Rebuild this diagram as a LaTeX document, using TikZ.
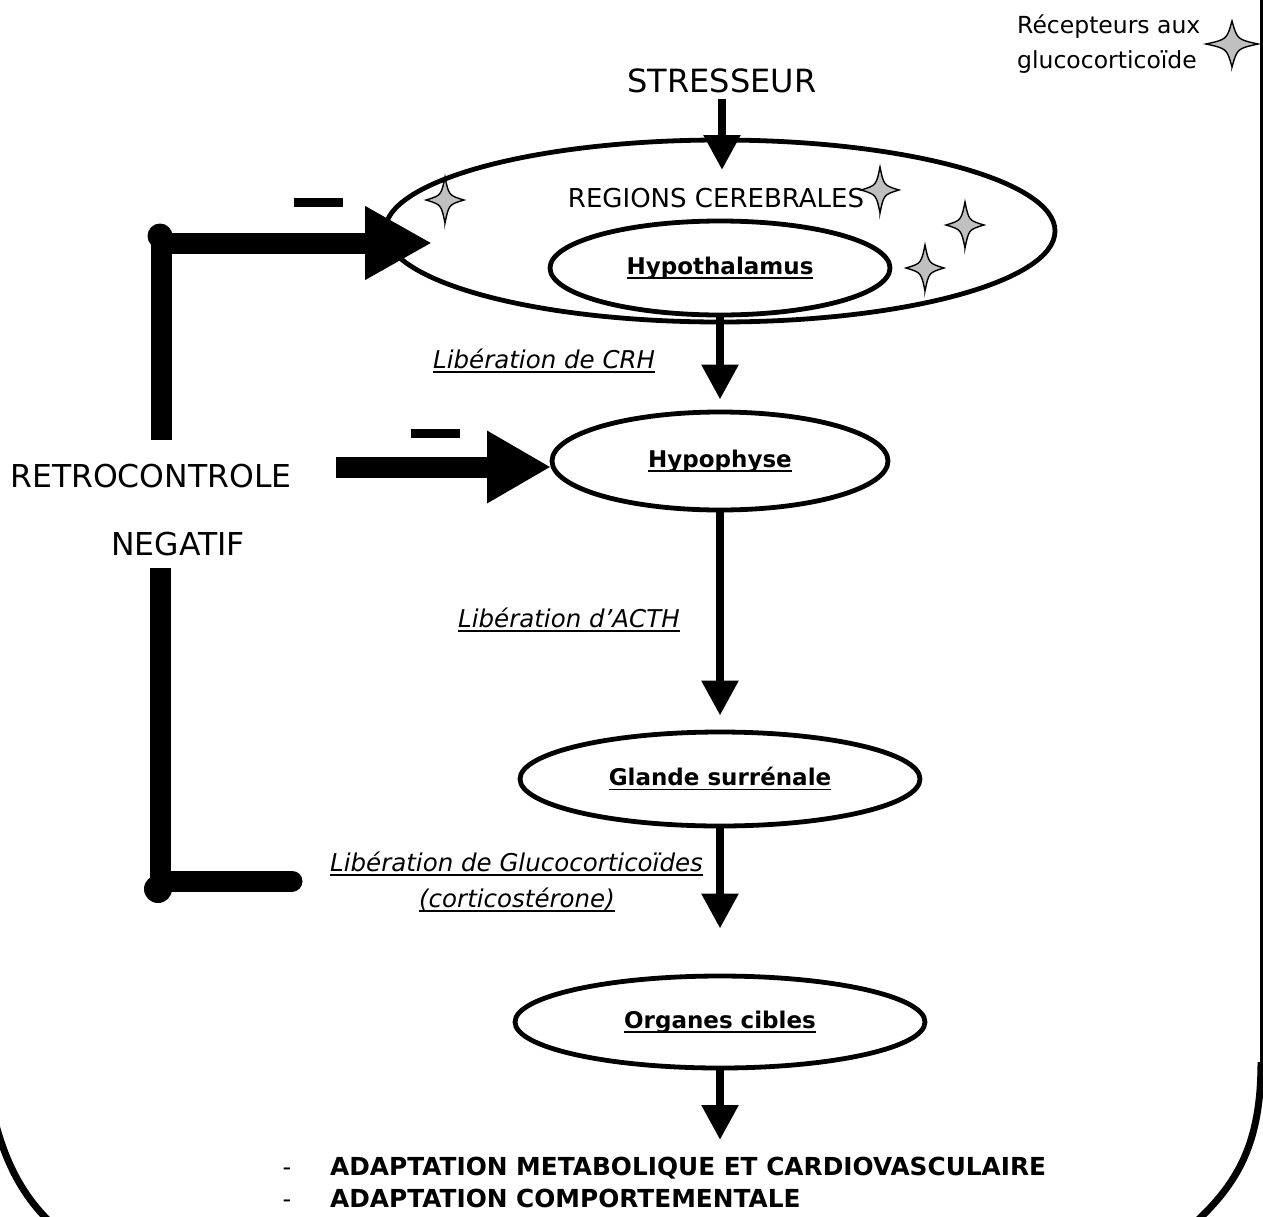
\documentclass[tikz,border=0pt]{standalone}
\usepackage{fontspec}
\setmainfont{DejaVu Sans}
\usetikzlibrary{arrows.meta,shapes.geometric}
\definecolor{starfill}{RGB}{192,192,192}
\newcommand\ulx[1]{\setbox0\hbox{#1}\rlap{\rule[-4.5pt]{\wd0}{1.8pt}}\box0}
\tikzset{
  ell/.style={draw, ellipse, line width=4.8pt, inner sep=0pt},
  lbl/.style={font=\fontsize{23}{27}\selectfont\bfseries},
  itl/.style={font=\fontsize{24.5}{30}\selectfont\itshape, inner sep=0pt},
  txt/.style={inner sep=0pt},
  arr/.style={line width=8.5pt, -{Triangle[length=35pt,width=35pt]}},
  fbbar/.style={line width=21pt},
  gstar/.pic={\path[draw=black, fill=starfill, line width=1.4pt]
     (0,1) .. controls (0.2,0.2) .. (1,0) .. controls (0.2,-0.2) .. (0,-1)
     .. controls (-0.2,-0.2) .. (-1,0) .. controls (-0.2,0.2) .. cycle;}
}
\begin{document}
\begin{tikzpicture}[x=1pt,y=-1pt]
\useasboundingbox (0,0) rectangle (1263,1216);
% frame
\draw[line width=2.4pt] (1261.5,-2) -- (1261.5,1068);
\draw[line width=7pt] (1261,1062) .. controls (1261,1140) and (1240,1180) .. (1198,1220);
\draw[line width=7pt] (-4,1125) .. controls (6,1162) and (22,1195) .. (50,1222);
% legend
\node[txt, anchor=base west, font=\fontsize{23.5}{28}\selectfont] (leg1) at (1017,33) {Récepteurs aux};
\node[txt, anchor=base west, font=\fontsize{23.5}{28}\selectfont] (leg2) at (1017,68) {glucocorticoïde};
\pic[xscale=26,yscale=23] at (1232,44) {gstar};
% main chain
\node[txt, anchor=base, font=\fontsize{32}{36}\selectfont] (stress) at (722,92) {STRESSEUR};
\node[ell, minimum width=670pt, minimum height=182pt] (brain) at (720,231) {};
\node[txt, anchor=base, font=\fontsize{26}{30}\selectfont] (regions) at (716,207) {REGIONS CEREBRALES};
\node[ell, lbl, minimum width=340pt, minimum height=94pt] (hypo) at (720,268) {\ulx{Hypothalamus}};
\pic[xscale=19,yscale=23] at (445,200) {gstar};
\pic[xscale=19,yscale=23] at (880,190) {gstar};
\pic[xscale=19,yscale=23] at (965,225) {gstar};
\pic[xscale=19,yscale=23] at (925,268) {gstar};
\node[ell, lbl, minimum width=336pt, minimum height=98pt] (hyph) at (720,461) {\ulx{Hypophyse}};
\node[ell, lbl, minimum width=400pt, minimum height=94pt] (glande) at (720,779) {\ulx{Glande surrénale}};
\node[ell, lbl, minimum width=410pt, minimum height=92pt] (organes) at (720,1022) {\ulx{Organes cibles}};
\coordinate (tstress) at (722,170);
\coordinate (tres) at (720,1140);
\draw[arr] ([yshift=-6pt]stress.south) -- (tstress);
\draw[arr, shorten >=10pt] (hypo.south) -- (hyph.north);
\draw[arr, shorten >=14pt] (hyph.south) -- (glande.north);
\draw[arr, shorten >=45pt] (glande.south) -- (organes.north);
\draw[arr] (organes.south) -- (tres);
% labels
\node[itl, anchor=base west] (crh) at (433,368) {\ulx{Libération de CRH}};
\node[itl, anchor=base west] (acth) at (458,627) {\ulx{Libération d’ACTH}};
\node[itl, anchor=base west] (gluco) at (330,871) {\ulx{Libération de Glucocorticoïdes}};
\node[itl, anchor=base] (cort) at (517,907) {\ulx{(corticostérone)}};
% results
\node[txt, anchor=base, font=\fontsize{24}{28}\selectfont] (d1) at (287,1175) {-};
\node[txt, anchor=base, font=\fontsize{24}{28}\selectfont] (d2) at (287,1207) {-};
\node[txt, anchor=base west, font=\fontsize{24.8}{28}\selectfont\bfseries] (r1) at (330,1175) {ADAPTATION METABOLIQUE ET CARDIOVASCULAIRE};
\node[txt, anchor=base west, font=\fontsize{24.8}{28}\selectfont\bfseries] (r2) at (330,1207) {ADAPTATION COMPORTEMENTALE};
% feedback
\node[txt, anchor=base west, font=\fontsize{31.5}{36}\selectfont] (retro) at (10,487) {RETROCONTROLE};
\node[txt, anchor=base east, font=\fontsize{31.5}{36}\selectfont] (neg) at (245,555) {NEGATIF};
\coordinate (fbA) at (161,243);
\coordinate (fbAtip) at (432,243);
\coordinate (fbAbot) at (161,440);
\coordinate (fbB) at (336,467);
\coordinate (fbBtip) at (551,467);
\coordinate (fbC) at (160,568);
\coordinate (fbCc) at (160,881);
\coordinate (fbCend) at (292,881);
\draw[fbbar] (161,232.5) -- (fbAbot);
\draw[fbbar, -{Triangle[length=67pt,width=69pt]}] (fbA) -- (fbAtip);
\fill (160,236) circle (12.5);
\draw[fbbar, -{Triangle[length=64pt,width=68pt]}] (fbB) -- (fbBtip);
\draw[fbbar] (fbC) -- (160,891.5);
\draw[fbbar, line cap=round] (fbCc) -- (fbCend);
\fill (158,889) circle (14);
\fill (294,198) rectangle (343,207);
\fill (411,429) rectangle (460,438);
\end{tikzpicture}
\end{document}
